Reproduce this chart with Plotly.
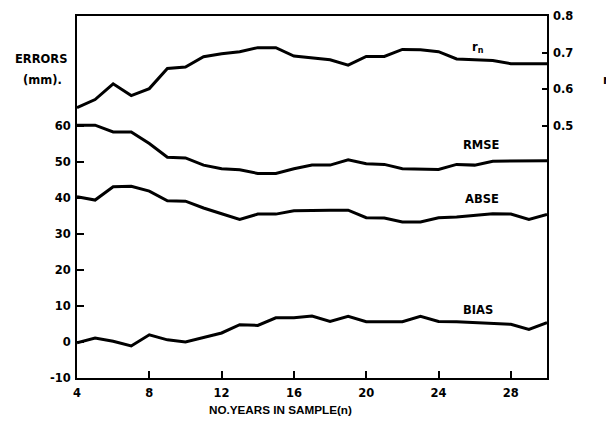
import plotly.graph_objects as go

n_years = list(range(4, 31))
rn = [0.550, 0.572, 0.615, 0.583, 0.602, 0.657, 0.661, 0.689, 0.697, 0.703, 0.714, 0.714, 0.691, 0.685,
      0.681, 0.666, 0.690, 0.690, 0.709, 0.708, 0.703, 0.683, 0.682, 0.679, 0.670, 0.670, 0.670]
rmse = [60.2, 60.2, 58.3, 58.3, 55.1, 51.3, 51.1, 49.1, 48.1, 47.8, 46.8, 46.8, 48.1, 49.1,
        49.1, 50.6, 49.5, 49.3, 48.1, 47.9, 47.9, 49.3, 49.1, 50.2, 50.3, 50.3, 50.3]
abse = [40.3, 39.4, 43.1, 43.2, 41.9, 39.2, 39.1, 37.2, 35.6, 34.0, 35.5, 35.5, 36.4, 36.6,
        36.6, 36.6, 34.5, 34.4, 33.3, 33.3, 34.5, 34.7, 35.2, 35.6, 35.5, 34.0, 35.4]
bias = [-0.2, 1.1, 0.2, -1.1, 2.0, 0.6, 0.0, 1.2, 2.5, 4.8, 4.6, 6.7, 6.7, 7.2,
        5.7, 7.1, 5.6, 5.6, 5.6, 7.1, 5.7, 5.6, 5.3, 5.1, 4.9, 3.5, 5.4]

x_ticks = [4, 8, 12, 16, 20, 24, 28]
err_ticks = [-10, 0, 10, 20, 30, 40, 50, 60]
r_ticks = [0.5, 0.6, 0.7, 0.8]

FONT = "DejaVu Sans, sans-serif"
TITLE_FONT = "Liberation Sans, Arial, sans-serif"
line = dict(color="black", width=3)

fig = go.Figure()
fig.add_trace(go.Scatter(x=n_years, y=rmse, mode="lines", line=line, showlegend=False))
fig.add_trace(go.Scatter(x=n_years, y=abse, mode="lines", line=line, showlegend=False))
fig.add_trace(go.Scatter(x=n_years, y=bias, mode="lines", line=line, showlegend=False))
fig.add_trace(go.Scatter(x=n_years, y=rn, mode="lines", line=line, yaxis="y2", showlegend=False))

tickfont = dict(family=FONT, size=11.5, color="black", weight="bold")

fig.update_layout(
    width=606, height=422,
    margin=dict(l=69, r=67, t=8, b=52),
    paper_bgcolor="white", plot_bgcolor="white",
    xaxis=dict(range=[4, 30], tickvals=x_ticks, ticktext=[str(v) for v in x_ticks],
               ticks="inside", ticklen=7, tickwidth=2, tickcolor="black",
               showline=True, linecolor="black", linewidth=2, mirror=True,
               showgrid=False, zeroline=False, tickfont=tickfont, automargin=False,
               ticklabelstandoff=3),
    yaxis=dict(range=[-10, 90.5], tickvals=err_ticks, ticktext=[str(v) for v in err_ticks],
               ticks="inside", ticklen=7, tickwidth=2, tickcolor="black",
               showline=True, linecolor="black", linewidth=2, mirror=True,
               showgrid=False, zeroline=False, tickfont=tickfont, automargin=False,
               ticklabelstandoff=2),
    yaxis2=dict(range=[-0.189, 0.8005], overlaying="y", side="right",
                tickvals=r_ticks, ticktext=["0.5", "0.6", "0.7", "0.8"],
                ticks="inside", ticklen=5, tickwidth=2, tickcolor="black",
                showline=False, showgrid=False, zeroline=False, tickfont=tickfont,
                automargin=False, ticklabelstandoff=5),
)

ann_font = dict(family=FONT, size=11.5, color="black", weight="bold")
labels = [
    ("r<sub>n</sub>", 26.2, 81.8),
    ("RMSE", 26.4, 54.6),
    ("ABSE", 26.4, 39.8),
    ("BIAS", 26.2, 8.8),
]
for txt, xv, yv in labels:
    fig.add_annotation(text=txt, x=xv, y=yv, xref="x", yref="y", showarrow=False,
                       xanchor="center", yanchor="middle", font=ann_font)

fig.add_annotation(text="ERRORS", x=-0.077, y=0.882, xref="paper", yref="paper",
                   xanchor="center", yanchor="middle", showarrow=False, font=ann_font)
fig.add_annotation(text="(mm).", x=-0.074, y=0.822, xref="paper", yref="paper",
                   xanchor="center", yanchor="middle", showarrow=False, font=ann_font)
fig.add_annotation(text="r<sub>n</sub>", x=1.115, y=0.822, xref="paper", yref="paper",
                   xanchor="left", yanchor="middle", showarrow=False, font=ann_font)
fig.add_annotation(text="NO.YEARS IN SAMPLE(n)", x=0.432, y=-0.086, xref="paper", yref="paper",
                   xanchor="center", yanchor="middle", showarrow=False,
                   font=dict(family=TITLE_FONT, size=11.7, color="black", weight="bold"))

fig.write_html("out.html")
